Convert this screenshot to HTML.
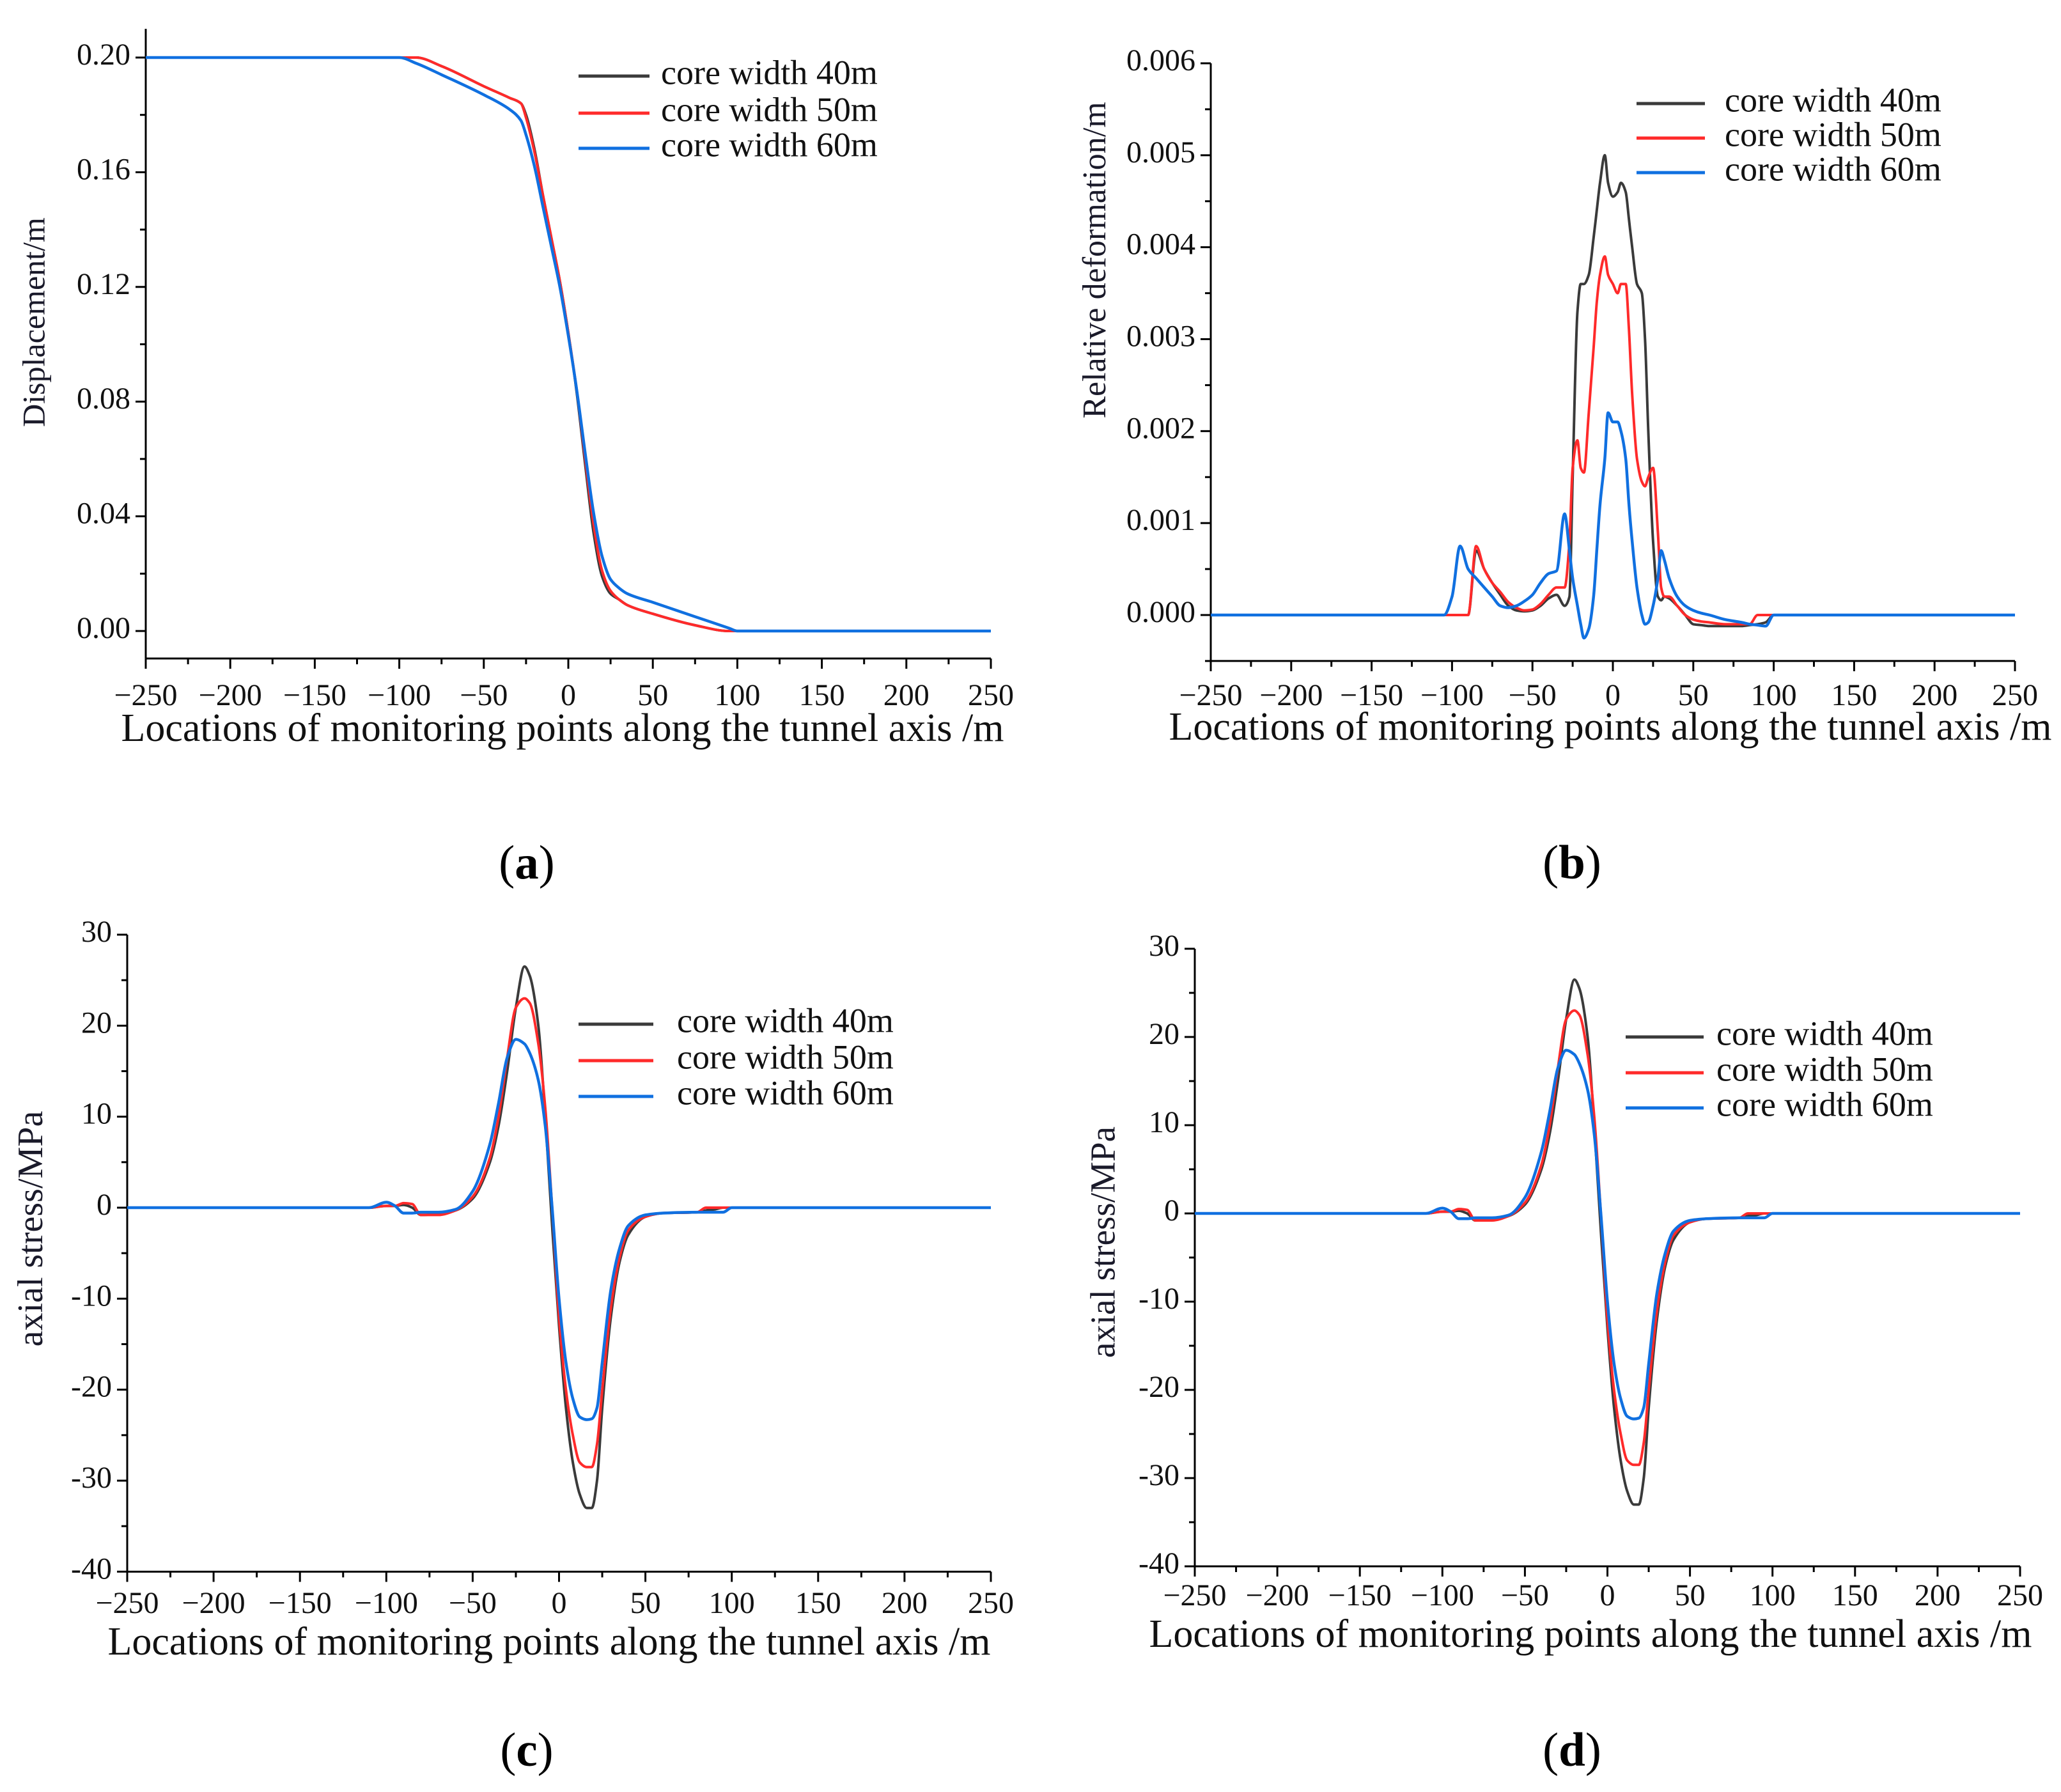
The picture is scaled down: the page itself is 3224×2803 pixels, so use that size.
<!DOCTYPE html>
<html><head><meta charset="utf-8">
<style>
html,body{margin:0;padding:0;background:#fff;}
svg, svg text{font-family:"Liberation Serif","Times New Roman",serif;}
svg{display:block;}
</style></head>
<body>
<svg id="fig" width="3224" height="2803" viewBox="0 0 3224 2803" font-family="Liberation Serif, serif" xmlns="http://www.w3.org/2000/svg">
<rect width="3224" height="2803" fill="#fff"/>
</svg>
<script>
// ---------- Data ----------
const legendLabels = ["core width 40m","core width 50m","core width 60m"];
const xTickValues = [-250,-200,-150,-100,-50,0,50,100,150,200,250];

// (a) displacement
const aX = [-250,-100,-90,-75,-50,-35,-28,-25,-20,-15,-10,-5,0,5,10,15,20,25,30,35,50,75,95,100,250];
const a40 = [0.2,0.2,0.2,0.197,0.19,0.186,0.184,0.18,0.168,0.152,0.137,0.122,0.104,0.083,0.058,0.034,0.019,0.013,0.011,0.009,0.006,0.002,0,0,0];
const a50 = [0.2,0.2,0.2,0.197,0.19,0.186,0.184,0.179,0.167,0.152,0.137,0.122,0.104,0.084,0.06,0.037,0.021,0.014,0.011,0.009,0.006,0.002,0,0,0];
const a60 = [0.2,0.2,0.198,0.194,0.187,0.182,0.178,0.173,0.162,0.148,0.134,0.12,0.103,0.084,0.062,0.041,0.026,0.018,0.015,0.013,0.01,0.005,0.001,0,0];
const aYTicks = [0,0.04,0.08,0.12,0.16,0.2];
const aYLabels = ["0.00","0.04","0.08","0.12","0.16","0.20"];

// (b) relative deformation
const bX = [-250,-105,-100,-95,-90,-85,-80,-75,-70,-65,-60,-55,-50,-45,-40,-35,-30,-27,-25,-22,-20,-18,-15,-12,-10,-8,-5,-3,0,3,5,8,10,12,15,18,20,22,25,28,30,32,35,40,45,50,55,60,70,80,85,90,95,100,105,250];
const b40 = [0,0,0,0,0,0.0007,0.0005,0.00035,0.00022,0.0001,0.00005,0.00004,0.00005,0.0001,0.00018,0.00022,0.0001,0.0002,0.0015,0.0033,0.0036,0.0036,0.0037,0.0041,0.0044,0.0047,0.005,0.0047,0.00455,0.0046,0.0047,0.0046,0.0043,0.004,0.0036,0.0035,0.003,0.002,0.0008,0.0002,0.00016,0.0002,0.00018,0.0001,0,-0.0001,-0.00011,-0.00012,-0.00012,-0.00012,-0.00011,-0.0001,-0.00008,0,0,0];
const b50 = [0,0,0,0,0,0.00075,0.0005,0.00035,0.00025,0.00014,0.00008,0.00005,0.00006,0.00012,0.00022,0.0003,0.0003,0.0008,0.0016,0.0019,0.0016,0.00155,0.0022,0.0029,0.0034,0.0037,0.0039,0.0037,0.0036,0.0035,0.0036,0.0036,0.0031,0.0024,0.0017,0.00145,0.0014,0.0015,0.0016,0.0009,0.0003,0.0002,0.0002,0.0001,0,-0.00005,-0.00007,-0.00008,-0.0001,-0.0001,-0.0001,0,0,0,0,0];
const b60 = [0,0,0.0002,0.00075,0.0005,0.0004,0.0003,0.0002,0.0001,0.00008,0.0001,0.00015,0.00022,0.00035,0.00045,0.00048,0.0011,0.0007,0.0004,0.0001,-0.0001,-0.00025,-0.00015,0.0002,0.0007,0.0012,0.0017,0.0022,0.0021,0.0021,0.002,0.0017,0.0012,0.0008,0.0003,0,-0.0001,-0.00008,0.0001,0.0004,0.0007,0.0006,0.0004,0.0002,0.0001,0.00005,0.00002,0,-0.00005,-0.00008,-0.0001,-0.00011,-0.00012,0,0,0];
const bYTicks = [0,0.001,0.002,0.003,0.004,0.005,0.006];
const bYLabels = ["0.000","0.001","0.002","0.003","0.004","0.005","0.006"];

// (c) axial stress
const cX = [-250,-110,-100,-95,-90,-85,-80,-70,-60,-50,-40,-35,-30,-25,-20,-17,-12,-8,-4,0,4,8,12,16,19,22,25,30,35,40,50,60,80,85,90,95,100,250];
const c40 = [0,0,0.2,0.2,0.3,0,-0.8,-0.7,-0.3,1,5,9,15,22,26.5,25.5,20,10,-2,-13,-22,-28,-31.5,-33,-33,-30,-22,-12,-6,-3,-1,-0.6,-0.5,-0.3,-0.2,0,0,0];
const c50 = [0,0,0.2,0.2,0.5,0.4,-0.8,-0.8,-0.3,1.2,5.5,10,16.5,22,23,22.5,18,11,0,-12,-20,-25,-28,-28.5,-28.5,-26,-20,-11,-5.5,-2.5,-1,-0.6,-0.5,0,0,0,0,0];
const c60 = [0,0,0.6,0.2,-0.6,-0.6,-0.5,-0.5,-0.2,1.8,7,11.5,16.5,18.5,18,17,14,9,0,-10,-17,-21,-23,-23.3,-23.2,-22,-17,-9,-4.5,-2,-0.8,-0.6,-0.5,-0.5,-0.5,-0.5,0,0];
const cYTicks = [-40,-30,-20,-10,0,10,20,30];
const cYLabels = ["-40","-30","-20","-10","0","10","20","30"];

// (d) axial stress
const dX = [-250,-110,-100,-95,-90,-85,-80,-70,-60,-50,-40,-35,-30,-25,-20,-17,-12,-8,-4,0,4,8,12,16,19,22,25,30,35,40,50,60,80,85,90,95,100,250];
const d40 = [0,0,0.2,0.2,0.3,0,-0.8,-0.7,-0.3,1,5,9,15,22,26.5,25.5,20,10,-2,-13,-22,-28,-31.5,-33,-33,-30,-22,-12,-6,-3,-1,-0.6,-0.5,-0.3,-0.2,0,0,0];
const d50 = [0,0,0.2,0.2,0.5,0.4,-0.8,-0.8,-0.3,1.2,5.5,10,16.5,22,23,22.5,18,11,0,-12,-20,-25,-28,-28.5,-28.5,-26,-20,-11,-5.5,-2.5,-1,-0.6,-0.5,0,0,0,0,0];
const d60 = [0,0,0.6,0.2,-0.6,-0.6,-0.5,-0.5,-0.2,1.8,7,11.5,16.5,18.5,18,17,14,9,0,-10,-17,-21,-23,-23.3,-23.2,-22,-17,-9,-4.5,-2,-0.8,-0.6,-0.5,-0.5,-0.5,-0.5,0,0];

const colors = ["#3a3a3a","#ff2a2a","#1070e0"];
const NS = "http://www.w3.org/2000/svg";
const svg = document.getElementById("fig");

function mk(tag, attrs, parent){
  const e = document.createElementNS(NS, tag);
  for (const k in attrs) e.setAttribute(k, attrs[k]);
  (parent||svg).appendChild(e);
  return e;
}

function pathD(pts){
  const n = pts.length;
  const dx = [], m = [], t = new Array(n);
  for (let i=0;i<n-1;i++){ dx.push(pts[i+1][0]-pts[i][0]); m.push((pts[i+1][1]-pts[i][1])/dx[i]); }
  t[0]=m[0]; t[n-1]=m[n-2];
  for (let i=1;i<n-1;i++){
    if (m[i-1]*m[i] <= 0) t[i]=0;
    else { const w1=2*dx[i]+dx[i-1], w2=dx[i]+2*dx[i-1]; t[i]=(w1+w2)/(w1/m[i-1]+w2/m[i]); }
  }
  let d = "M" + pts[0][0].toFixed(1) + "," + pts[0][1].toFixed(1);
  for (let i=0;i<n-1;i++){
    const h = dx[i]/3;
    d += " C"+(pts[i][0]+h).toFixed(1)+","+(pts[i][1]+t[i]*h).toFixed(1)+" "+(pts[i+1][0]-h).toFixed(1)+","+(pts[i+1][1]-t[i+1]*h).toFixed(1)+" "+pts[i+1][0].toFixed(1)+","+pts[i+1][1].toFixed(1);
  }
  return d;
}

function chart(cfg){
  const g = mk("g", {});
  
  
  const xs = v => cfg.x0 + (v + 250) / 500 * (cfg.x1 - cfg.x0);
  const ys = v => cfg.yZero + (cfg.yRef - cfg.yZero) * (v - cfg.vZero) / (cfg.vRef - cfg.vZero);
  const yTop = ys(cfg.yMax), yBot = ys(cfg.yMin);
  const ax = mk("line", {x1:cfg.x0, y1:yBot, x2:cfg.x1, y2:yBot, stroke:"#000","stroke-width":3}, g);
  
  
  const ay = mk("line", {x1:cfg.x0, y1:yTop, x2:cfg.x0, y2:yBot, stroke:"#000","stroke-width":3}, g);
  
  
  for (let v=-250; v<=250; v+=25){
    const major = v % 50 === 0;
    mk("line", {x1:xs(v), y1:yBot, x2:xs(v), y2:yBot+(major?16:9), stroke:"#000","stroke-width":3}, g);
  }
  xTickValues.forEach(v=>{
    const t = mk("text", {x:xs(v), y:cfg.xLabY, "font-size":48, "text-anchor":"middle", "dominant-baseline":"middle", fill:"#111"}, g);
    t.textContent = v < 0 ? "\u2212" + Math.abs(v) : String(v);
    
    
  });
  const step = cfg.yTicks[1]-cfg.yTicks[0];
  for (let i=0;i<cfg.yTicks.length;i++){
    const v = cfg.yTicks[i];
    mk("line", {x1:cfg.x0-16, y1:ys(v), x2:cfg.x0, y2:ys(v), stroke:"#000","stroke-width":3}, g);
    const mm = v + step/2;
    if (mm <= cfg.yMax) mk("line", {x1:cfg.x0-9, y1:ys(mm), x2:cfg.x0, y2:ys(mm), stroke:"#000","stroke-width":3}, g);
    const mb = v - step/2;
    if (i===0 && mb >= cfg.yMin) mk("line", {x1:cfg.x0-9, y1:ys(mb), x2:cfg.x0, y2:ys(mb), stroke:"#000","stroke-width":3}, g);
    const t = mk("text", {x:cfg.x0-24, y:ys(v), "font-size":48, "text-anchor":"end", "dominant-baseline":"middle", fill:"#111"}, g);
    t.textContent = cfg.yLabels[i];
    
    
  }
  const xt = mk("text", {x:cfg.xTitle[0], y:cfg.xTitle[1], "font-size":62, "text-anchor":"middle", "dominant-baseline":"middle", fill:"#111"}, g);
  xt.textContent = "Locations of monitoring points along the tunnel axis /m";
  
  
  const yt = mk("text", {x:0, y:0, "font-size":cfg.yTitleSize, "text-anchor":"middle", "dominant-baseline":"middle", fill:"#1a1a2a", transform:"translate("+cfg.yTitle[0]+","+cfg.yTitle[1]+") rotate(-90)"}, g);
  yt.textContent = cfg.yTitleText;
  
  
  cfg.series.forEach((s,k)=>{
    const pts = cfg.xData.map((xv,i)=>[xs(xv), ys(s[i])]);
    const p = mk("path", {d:pathD(pts), fill:"none", stroke:colors[k], "stroke-width":k===2?4.5:4, "stroke-linejoin":"round"}, g);
    
    
  });
  legendLabels.forEach((lab,k)=>{
    const y = cfg.leg.ys[k];
    const l = mk("line", {x1:cfg.leg.l0, y1:y, x2:cfg.leg.l1, y2:y, stroke:colors[k], "stroke-width":5}, g);
    
    
    const t = mk("text", {x:cfg.leg.tx, y:y, "font-size":54, "dominant-baseline":"middle", fill:"#111"}, g);
    t.textContent = lab;
    
    
  });
  const pl = mk("text", {x:cfg.panel[0], y:cfg.panel[1], "font-size":75, "text-anchor":"middle", "dominant-baseline":"middle", fill:"#000"}, g);
  pl.innerHTML = '(<tspan font-weight="bold">'+cfg.panelLetter+'</tspan>)';
  
  
}

chart({name:"chart-a-displacement", x0:228, x1:1550, yZero:987, yRef:90, vZero:0, vRef:0.2, yMin:-0.0096, yMax:0.21,
  yTicks:aYTicks, yLabels:aYLabels, xLabY:1092, xTitle:[880,1145], yTitle:[58,504], yTitleSize:50, yTitleText:"Displacement/m",
  xData:aX, series:[a40,a50,a60], leg:{l0:905,l1:1016,tx:1034,ys:[119,177,232]}, panel:[824,1357], panelLetter:"a"});

chart({name:"chart-b-relative-deformation", x0:1894, x1:3152, yZero:962, yRef:99, vZero:0, vRef:0.006, yMin:-0.0005, yMax:0.006,
  yTicks:bYTicks, yLabels:bYLabels, xLabY:1092, xTitle:[2519,1143], yTitle:[1717,407], yTitleSize:52, yTitleText:"Relative deformation/m",
  xData:bX, series:[b40,b50,b60], leg:{l0:2560,l1:2667,tx:2698,ys:[162,216,270]}, panel:[2459,1357], panelLetter:"b"});

chart({name:"chart-c-axial-stress", x0:199, x1:1550, yZero:1889, yRef:1462, vZero:0, vRef:30, yMin:-40, yMax:30,
  yTicks:cYTicks, yLabels:cYLabels, xLabY:2512, xTitle:[859,2574], yTitle:[53,1922], yTitleSize:56, yTitleText:"axial stress/MPa",
  xData:cX, series:[c40,c50,c60], leg:{l0:905,l1:1022,tx:1059,ys:[1602,1659,1715]}, panel:[824,2745], panelLetter:"c"});

chart({name:"chart-d-axial-stress", x0:1869, x1:3160, yZero:1898, yRef:1484, vZero:0, vRef:30, yMin:-40, yMax:30,
  yTicks:cYTicks, yLabels:cYLabels, xLabY:2500, xTitle:[2488,2562], yTitle:[1731,1943], yTitleSize:55, yTitleText:"axial stress/MPa",
  xData:dX, series:[d40,d50,d60], leg:{l0:2543,l1:2665,tx:2685,ys:[1622,1678,1733]}, panel:[2459,2745], panelLetter:"d"});
</script>
</body></html>
